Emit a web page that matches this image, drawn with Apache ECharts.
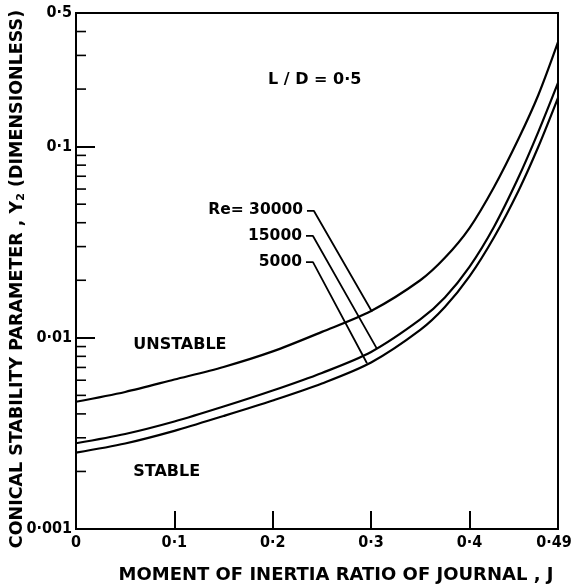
<!DOCTYPE html>
<html>
<head>
<meta charset="utf-8">
<script src="https://cdn.jsdelivr.net/npm/echarts@6/dist/echarts.min.js"></script>
<style>
html,body{margin:0;padding:0;background:#fff;}
#chart{width:573px;height:588px;}
</style>
</head>
<body>
<div id="chart"></div>
<script>
// ---- data ----
const jValues = [0, 0.05, 0.1, 0.15, 0.2, 0.25, 0.3, 0.35, 0.375, 0.4, 0.425, 0.45, 0.47, 0.49];
const re30000 = [0.00463, 0.00521, 0.00605, 0.00704, 0.00849, 0.01074, 0.01381, 0.0200, 0.0262, 0.0375, 0.0615, 0.1103, 0.1863, 0.352];
const re15000 = [0.00281, 0.00314, 0.00365, 0.00437, 0.0053, 0.00655, 0.00843, 0.01247, 0.01626, 0.0235, 0.0381, 0.0693, 0.1194, 0.2153];
const re5000  = [0.00251, 0.0028, 0.00326, 0.0039, 0.0047, 0.00577, 0.00743, 0.0110, 0.01449, 0.02094, 0.03357, 0.059, 0.0998, 0.1799];

const yMinorTicks = [0.002,0.003,0.004,0.005,0.006,0.007,0.008,0.009,
                     0.02,0.03,0.04,0.05,0.06,0.07,0.08,0.09,
                     0.2,0.3,0.4];

// leader lines (data coordinates): label end -> hook -> curve
const leader30000 = [[0.2348, 0.0461], [0.2419, 0.0461], [0.3009, 0.0137]];
const leader15000 = [[0.2338, 0.0341], [0.2409, 0.0341], [0.306, 0.00875]];
const leader5000  = [[0.2338, 0.0249], [0.2409, 0.0249], [0.2958, 0.00736]];

// annotations: [J, Y2, text, align]
const annotations = [
  [0.1952, 0.223, 'L / D = 0·5', 'left'],
  [0.0582, 0.00918, 'UNSTABLE', 'left'],
  [0.0582, 0.00199, 'STABLE', 'left'],
  [0.2308, 0.0466, 'Re= 30000', 'right'],
  [0.2297, 0.0341, '15000', 'right'],
  [0.2297, 0.0249, '5000', 'right']
];

const titleFont = 'DejaVu Sans';
const tickFont = '"DejaVu Sans Condensed", "DejaVu Sans"';

function pairs(xs, ys){ return xs.map((x,i)=>[x, ys[i]]); }
function fmt(v){ return String(Number(Number(v).toPrecision(2))).replace('.', '·'); }
function fmtX(v){
  const s = fmt(v);
  return v >= 0.49 ? '{last|' + s + '}' : s;
}

const curveStyle = {color:'#000', width:2.2};
function curve(name, ys){
  return {name, type:'line', data: pairs(jValues, ys), smooth:0.3,
          symbol:'none', lineStyle:curveStyle, silent:true};
}
function leader(name, pts){
  return {name, type:'line', data: pts, smooth:false, symbol:'none',
          lineStyle:{color:'#000', width:1.8}, silent:true};
}

const chart = echarts.init(document.getElementById('chart'), null, {renderer:'canvas'});
chart.setOption({
  animation:false,
  backgroundColor:'#fff',
  grid:{left:76, right:15, top:13, bottom:59, show:true, borderColor:'#000', borderWidth:2,
        containLabel:false, outerBoundsMode:'none'},
  xAxis:{
    type:'value', min:0, max:0.49, interval:0.1,
    axisLine:{show:true, lineStyle:{color:'#000', width:2}},
    axisTick:{show:true, inside:true, length:18, lineStyle:{color:'#000', width:2}},
    splitLine:{show:false},
    axisLabel:{formatter: fmtX, color:'#000', fontFamily:tickFont, fontWeight:'bold', fontSize:16, margin:6,
      showMaxLabel:true, showMinLabel:true,
      rich:{last:{color:'#000', fontFamily:tickFont, fontWeight:'bold', fontSize:16, padding:[0,8,0,0]}}},
    name:'MOMENT OF INERTIA RATIO OF JOURNAL , J',
    nameLocation:'middle', nameGap:37, nameMoveOverlap:false,
    nameTextStyle:{color:'#000', fontFamily:titleFont, fontWeight:'bold', fontSize:18, padding:[0,0,0,38]}
  },
  yAxis:{
    type:'log', logBase:10, min:0.001, max:0.5,
    axisLine:{show:true, lineStyle:{color:'#000', width:2}},
    axisTick:{show:true, inside:true, length:19, lineStyle:{color:'#000', width:2}},
    splitLine:{show:false},
    minorTick:{show:false},
    axisLabel:{formatter: fmt, color:'#000', fontFamily:tickFont, fontWeight:'bold', fontSize:16, margin:4},
    name:'CONICAL STABILITY PARAMETER , Y{sub|2} (DIMENSIONLESS)',
    nameLocation:'middle', nameGap:49, nameRotate:90, nameMoveOverlap:false,
    nameTextStyle:{color:'#000', fontFamily:titleFont, fontWeight:'bold', fontSize:17.5, padding:[0,16,0,0],
      rich:{sub:{color:'#000', fontFamily:titleFont, fontWeight:'bold', fontSize:11, verticalAlign:'bottom', padding:[8,0,0,0]}}}
  },
  series:[
    curve('Re=30000', re30000),
    curve('Re=15000', re15000),
    curve('Re=5000', re5000),
    leader('leader30000', leader30000),
    leader('leader15000', leader15000),
    leader('leader5000', leader5000),
    {
      name:'minorTicks', type:'custom', silent:true, clip:false,
      data: yMinorTicks.map(v=>[0, v]),
      renderItem:function(params, api){
        const p = api.coord([0, api.value(1)]);
        return {type:'line', shape:{x1:p[0], y1:p[1], x2:p[0]+10, y2:p[1]},
                style:{stroke:'#000', lineWidth:1.6}};
      }
    },
    {
      name:'annotations', type:'custom', silent:true, clip:false,
      data: annotations,
      encode:{x:0, y:1},
      renderItem:function(params, api){
        const a = annotations[params.dataIndex];
        const p = api.coord([a[0], a[1]]);
        const big = a[2] === 'UNSTABLE' || a[2] === 'STABLE' || a[2].indexOf('L /') === 0;
        return {type:'text', x:p[0], y:p[1],
                style:{text:a[2], fill:'#000', align:a[3], verticalAlign:'middle',
                       font:'bold ' + (big ? 16 : 15.5) + 'px "DejaVu Sans"'}};
      }
    }
  ]
});
</script>
</body>
</html>
